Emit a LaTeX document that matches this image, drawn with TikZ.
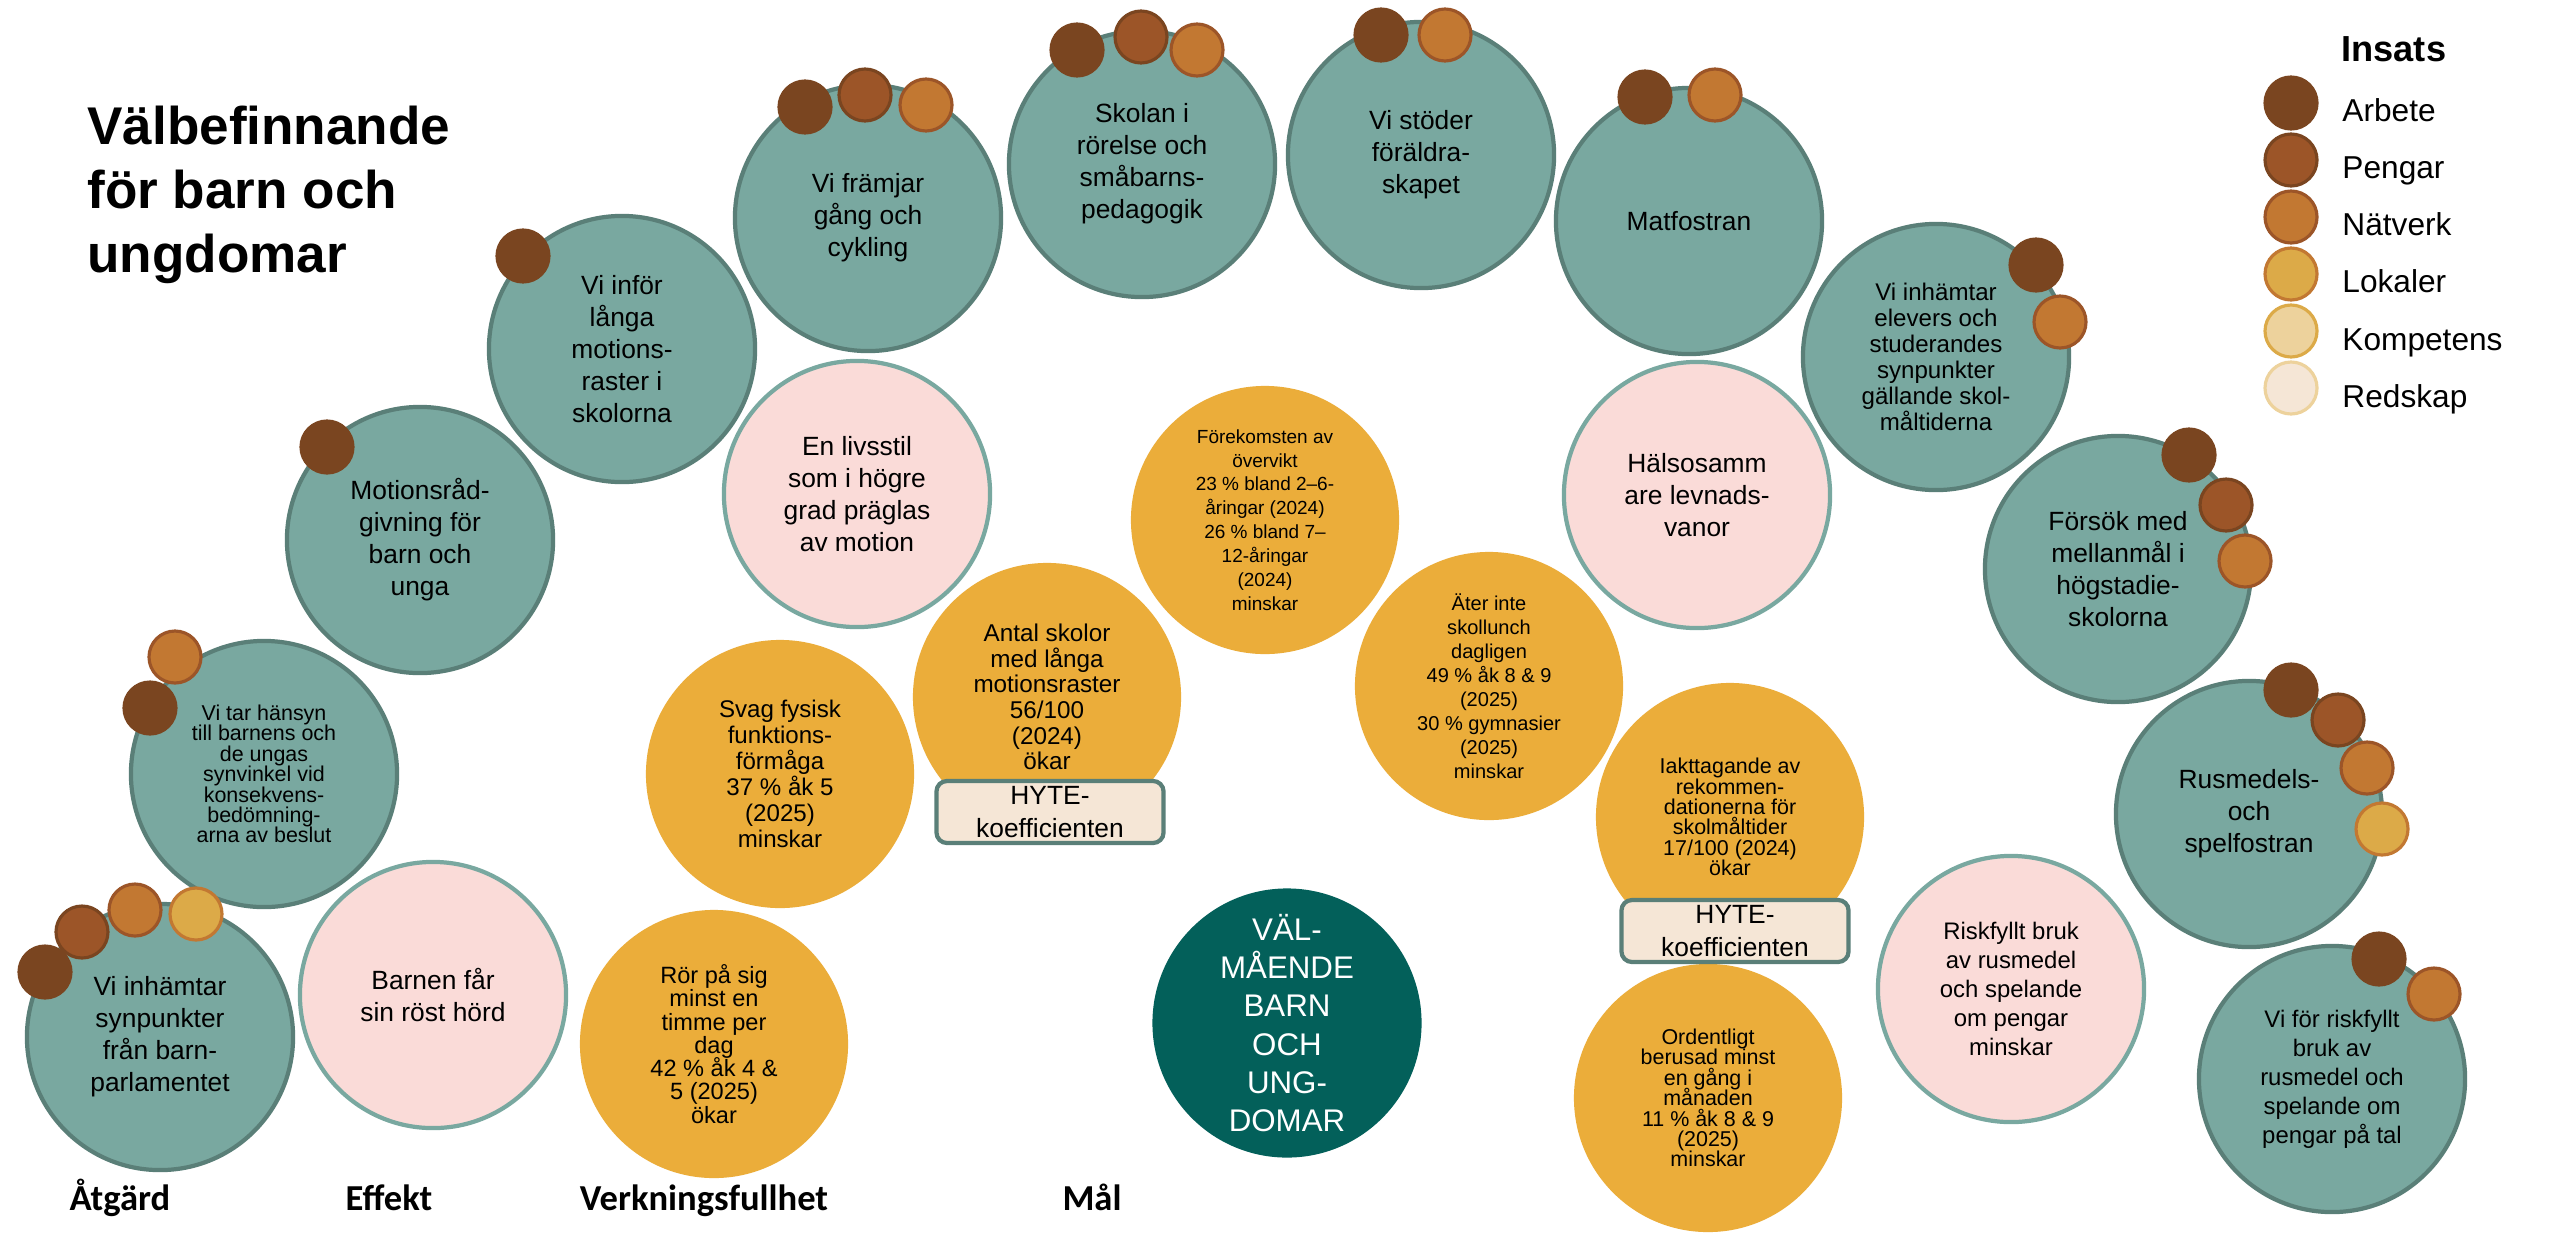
\documentclass[tikz,border=0pt]{standalone}
\usepackage{fontspec}
\setmainfont{Liberation Sans}
\newfontfamily\rubrikfont{Carlito}
\usetikzlibrary{positioning}

\definecolor{tealfill}{HTML}{79A8A0}
\definecolor{tealline}{HTML}{5A7F78}
\definecolor{pinkfill}{HTML}{FADBD8}
\definecolor{orangefill}{HTML}{EBAD3A}
\definecolor{maldark}{HTML}{03605A}
\definecolor{arbetefill}{HTML}{7A4520}
\definecolor{pengarfill}{HTML}{9C5528}
\definecolor{natverkfill}{HTML}{C27832}
\definecolor{lokalerfill}{HTML}{DCAA48}
\definecolor{kompetensfill}{HTML}{EDD29C}
\definecolor{redskapfill}{HTML}{F5E6D6}

\tikzset{
	atgard/.style={circle, draw=tealline, fill=tealfill, line width=1.2pt, minimum size=2.66cm, inner sep=0pt, align=center},
	effekt/.style={circle, draw=tealfill, fill=pinkfill, line width=1.2pt, minimum size=2.66cm, inner sep=0pt, align=center},
	verkan/.style={circle, fill=orangefill, minimum size=2.68cm, inner sep=0pt, align=center},
	malnod/.style={circle, fill=maldark, text=white, minimum size=2.69cm, inner sep=0pt, align=center},
	hyte/.style={rectangle, rounded corners=3pt, draw=tealline, fill=redskapfill, line width=1.2pt, minimum width=2.27cm, minimum height=0.62cm, inner sep=0pt, align=center, font={\fontsize{7.5}{9.4}\selectfont}},
	typ/.style 2 args={font={\fontsize{#1}{#2}\selectfont\lineskiplimit=-\maxdimen}},
	rubrik/.style={anchor=base, font={\rubrikfont\bfseries\fontsize{10.4}{12}\selectfont}},
	arbete/.style={fill=arbetefill, draw=arbetefill, line width=0.9pt},
	pengar/.style={fill=pengarfill, draw=arbetefill, line width=0.9pt},
	natverk/.style={fill=natverkfill, draw=pengarfill, line width=0.9pt},
	lokaler/.style={fill=lokalerfill, draw=natverkfill, line width=0.9pt},
	kompetens/.style={fill=kompetensfill, draw=lokalerfill, line width=0.9pt},
	redskap/.style={fill=redskapfill, draw=kompetensfill, line width=0.9pt}
}
\def\insats[#1](#2){\draw[#1] (#2) circle (26)}

\begin{document}
\begin{tikzpicture}[x=0.01cm, y=-0.01cm]
	%%%%% START %%%%%
	
	\useasboundingbox (0, 0) rectangle (2552, 1233);
	\fill[white] (0, 0) rectangle (2552, 1233);
	
	\node[anchor=west, align=left, font={\bfseries\fontsize{15.1}{18.2}\selectfont}] (titel) at (75, 195) {Välbefinnande\\för barn och\\ungdomar};
	
	\node[atgard, typ={7.5}{9.1}] (barnparl) at (160, 1037) {Vi inhämtar\\synpunkter\\från barn-\\parlamentet};
	\node[atgard, typ={6.1}{5.8}] (hansyn) at (264, 774) {Vi tar hänsyn\\till barnens och\\de ungas\\synvinkel vid\\konsekvens-\\bedömning-\\arna av beslut};
	\node[atgard, typ={7.5}{9.1}] (motrad) at (420, 540) {Motionsråd-\\givning för\\barn och\\unga};
	\node[atgard, typ={7.5}{9.1}] (raster) at (622, 349) {Vi inför\\långa\\motions-\\raster i\\skolorna};
	\node[atgard, typ={7.5}{9.1}] (framjar) at (868, 218) {Vi främjar\\gång och\\cykling};
	\node[atgard, typ={7.5}{9.1}] (skolan) at (1142, 164) {Skolan i\\rörelse och\\småbarns-\\pedagogik};
	\node[atgard, typ={7.5}{9.1}] (foraldra) at (1421, 155) {Vi stöder\\föräldra-\\skapet};
	\node[atgard, typ={7.5}{9.1}] (matfostran) at (1689, 221) {Matfostran};
	\node[atgard, typ={6.85}{7.4}] (elever) at (1936, 357) {Vi inhämtar\\elevers och\\studerandes\\synpunkter\\gällande skol-\\måltiderna};
	\node[atgard, typ={7.5}{9.1}] (mellanmal) at (2118, 569) {Försök med\\mellanmål i\\högstadie-\\skolorna};
	\node[atgard, typ={7.5}{9.1}] (rusfostran) at (2249, 814) {Rusmedels-\\och\\spelfostran};
	\node[atgard, typ={6.8}{8.25}] (riskpatal) at (2332, 1079) {Vi för riskfyllt\\bruk av\\rusmedel och\\spelande om\\pengar på tal};
	
	\node[effekt, typ={7.5}{9.1}] (rost) at (433, 995) {Barnen får\\sin röst hörd};
	\node[effekt, typ={7.5}{9.1}] (livsstil) at (857, 494) {En livsstil\\som i högre\\grad präglas\\av motion};
	\node[effekt, typ={7.5}{9.1}] (levnadsvanor) at (1697, 495) {Hälsosamm\\are levnads-\\vanor};
	\node[effekt, typ={6.8}{8.25}] (riskbruk) at (2011, 989) {Riskfyllt bruk\\av rusmedel\\och spelande\\om pengar\\minskar};
	
	\node[verkan, typ={6.7}{6.6}] (rorpa) at (714, 1044) {Rör på sig\\minst en\\timme per\\dag\\42 \% åk 4 \&\\5 (2025)\\ökar};
	\node[verkan, typ={6.85}{7.4}] (svag) at (780, 774) {Svag fysisk\\funktions-\\förmåga\\37 \% åk 5\\(2025)\\minskar};
	\node[verkan, typ={6.9}{7.3}] (antal) at (1047, 697) {Antal skolor\\med långa\\motionsraster\\56/100\\(2024)\\ökar};
	\node[verkan, typ={5.4}{6.8}] (overvikt) at (1265, 520) {Förekomsten av\\övervikt\\23 \% bland 2–6-\\åringar (2024)\\26 \% bland 7–\\12-åringar\\(2024)\\minskar};
	\node[verkan, typ={5.7}{6.8}] (skollunch) at (1489, 686) {Äter inte\\skollunch\\dagligen\\49 \% åk 8 \& 9\\(2025)\\30 \% gymnasier\\(2025)\\minskar};
	\node[verkan, typ={6.1}{5.8}] (iakttag) at (1730, 817) {Iakttagande av\\rekommen-\\dationerna för\\skolmåltider\\17/100 (2024)\\ökar};
	\node[verkan, typ={6.1}{5.8}] (berusad) at (1708, 1098) {Ordentligt\\berusad minst\\en gång i\\månaden\\11 \% åk 8 \& 9\\(2025)\\minskar};
	
	\node[malnod, typ={8.9}{10.9}] (malet) at (1287, 1023) {VÄL-\\MÅENDE\\BARN\\OCH\\UNG-\\DOMAR};
	
	\node[hyte] (hyteA) at (1050, 812) {HYTE-\\koefficienten};
	\node[hyte] (hyteB) at (1735, 931) {HYTE-\\koefficienten};
	
	\insats[arbete](45, 972);
	\insats[pengar](82, 932);
	\insats[natverk](135, 910);
	\insats[lokaler](196, 914);
	
	\insats[natverk](175, 657);
	\insats[arbete](150, 708);
	
	\insats[arbete](327, 447);
	\insats[arbete](523, 256);
	
	\insats[arbete](805, 107);
	\insats[pengar](865, 95);
	\insats[natverk](926, 105);
	
	\insats[arbete](1077, 50);
	\insats[pengar](1141, 37);
	\insats[natverk](1197, 50);
	
	\insats[arbete](1381, 35);
	\insats[natverk](1445, 35);
	
	\insats[arbete](1645, 97);
	\insats[natverk](1715, 95);
	
	\insats[arbete](2036, 265);
	\insats[natverk](2060, 322);
	
	\insats[arbete](2189, 455);
	\insats[pengar](2226, 505);
	\insats[natverk](2245, 561);
	
	\insats[arbete](2291, 690);
	\insats[pengar](2338, 720);
	\insats[natverk](2367, 768);
	\insats[lokaler](2382, 829);
	
	\insats[arbete](2379, 959);
	\insats[natverk](2434, 994);
	
	\node[anchor=base west, font={\bfseries\fontsize{10.3}{12}\selectfont}] (insats) at (2329, 61) {Insats};
	\foreach \stil/\namn [count=\i from 0] in {arbete/Arbete, pengar/Pengar, natverk/Nätverk, lokaler/Lokaler, kompetens/Kompetens, redskap/Redskap}{
		\insats[\stil](2291, 103+57*\i);
		\node[anchor=base west, font={\fontsize{9}{10}\selectfont}] (leg\i) at (2330, 121+57.3*\i) {\namn};
	}
	
	\node[rubrik] (atgardtxt) at (120, 1210) {Åtgärd};
	\node[rubrik] (effekttxt) at (389, 1210) {Effekt};
	\node[rubrik] (verkantxt) at (704, 1210) {Verkningsfullhet};
	\node[rubrik] (maltxt) at (1092, 1210) {Mål};
	
	%%%%% END %%%%%
\end{tikzpicture}
\end{document}
